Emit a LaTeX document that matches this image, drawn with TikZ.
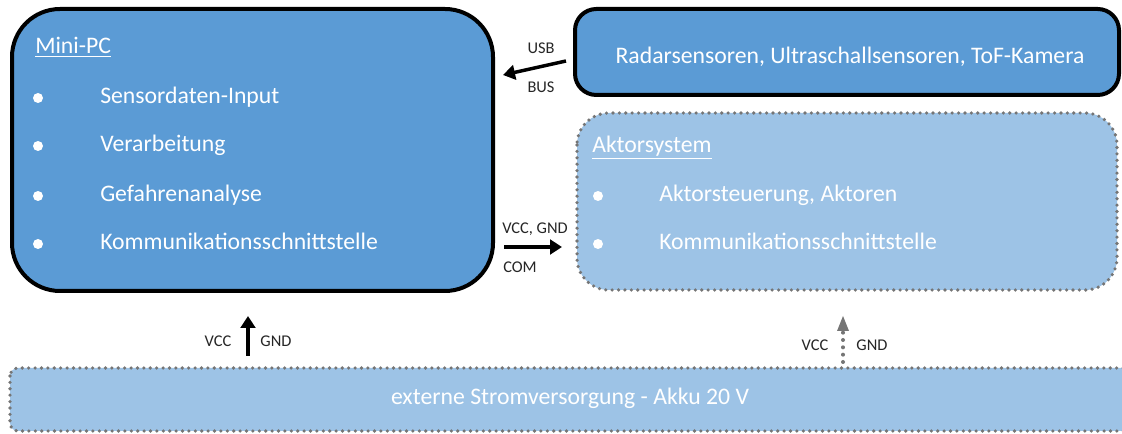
\documentclass[tikz,border=0pt]{standalone}
\usepackage{fontspec}
\setmainfont{Carlito}
\usetikzlibrary{arrows.meta}
\definecolor{boxdark}{HTML}{5B9BD5}
\definecolor{boxlight}{HTML}{9DC3E6}
\definecolor{dotgray}{HTML}{757575}
\tikzset{
  solidbox/.style={draw=black, line width=3pt, fill=boxdark},
  dotbox/.style={draw=dotgray, line width=2.7pt, fill=boxlight, line cap=round,
    dash pattern=on 0pt off 4.8pt},
  bigtext/.style={font=\fontsize{17.8}{21}\selectfont, text=white, inner sep=0pt},
  smalltext/.style={font=\fontsize{12.3}{14}\selectfont, text=black!85, inner sep=0pt},
  bulletdot/.style={circle, fill=white, inner sep=0pt, minimum size=7.5pt},
  link/.style={-{Triangle[length=9pt,width=11pt]}, line width=2.6pt, black},
  dotlink/.style={dotgray, line width=3pt, line cap=round, dash pattern=on 0pt off 5.5pt},
}
\begin{document}
\begin{tikzpicture}[x=0.75pt, y=-0.75pt]
\clip (0,0) rectangle (1122,434);
\fill[white] (0,0) rectangle (1122,434);

% Mini-PC
\draw[solidbox, rounded corners=36pt] (12,9) rectangle (493,291);
\node[bigtext, anchor=base west] (pct) at (35,54) {\underline{Mini-PC}};
\foreach \y/\t [count=\i] in {104/Sensordaten-Input, 152/Verarbeitung, 202/Gefahrenanalyse, 250/Kommunikationsschnittstelle}{
  \node[bulletdot] (pb\i) at (38,\y-6) {};
  \node[bigtext, anchor=base west] (pi\i) at (100,\y) {\t};
}

% Sensors
\draw[solidbox, rounded corners=16pt] (575,9) rectangle (1119,95);
\node[bigtext] (sens) at (850,57) {Radarsensoren, Ultraschallsensoren, ToF-Kamera};

% Actuator system
\draw[dotbox, rounded corners=24pt] (577,113) rectangle (1117,290);
\node[bigtext, anchor=base west] (akt) at (592,153) {\underline{Aktorsystem}};
\foreach \y/\t [count=\i] in {202/{Aktorsteuerung, Aktoren}, 250/Kommunikationsschnittstelle}{
  \node[bulletdot] (ab\i) at (598,\y-6) {};
  \node[bigtext, anchor=base west] (ai\i) at (659,\y) {\t};
}

% Power supply
\draw[dotbox, rounded corners=6pt] (10,368) rectangle (1140,431);
\node[bigtext] (pwr) at (570,398) {externe Stromversorgung - Akku 20 V};

% USB / BUS
\coordinate (usbA) at (566,61);
\coordinate (usbB) at (503,75);
\draw[link] (usbA) -- (usbB);
\node[smalltext] (usb) at (541,48) {USB};
\node[smalltext] (bus) at (541,87) {BUS};

% VCC, GND / COM
\coordinate (comA) at (504,247);
\coordinate (comB) at (562,247);
\draw[link] (comA) -- (comB);
\node[smalltext] (vg) at (535,229) {VCC, GND};
\node[smalltext] (com) at (520,267) {COM};

% Supply to Mini-PC
\coordinate (upA) at (248,356);
\coordinate (upB) at (248,316);
\draw[link] (upA) -- (upB);
\node[smalltext] (v1) at (218,341) {VCC};
\node[smalltext] (g1) at (276,341) {GND};

% Supply to actuators (dotted)
\coordinate (up2A) at (843,362);
\coordinate (up2B) at (843,332);
\draw[dotlink] (up2A) -- (up2B);
\fill[dotgray] (843,316) -- (849,331) -- (837,331) -- cycle;
\node[smalltext] (v2) at (815,345) {VCC};
\node[smalltext] (g2) at (872,345) {GND};
\end{tikzpicture}
\end{document}
